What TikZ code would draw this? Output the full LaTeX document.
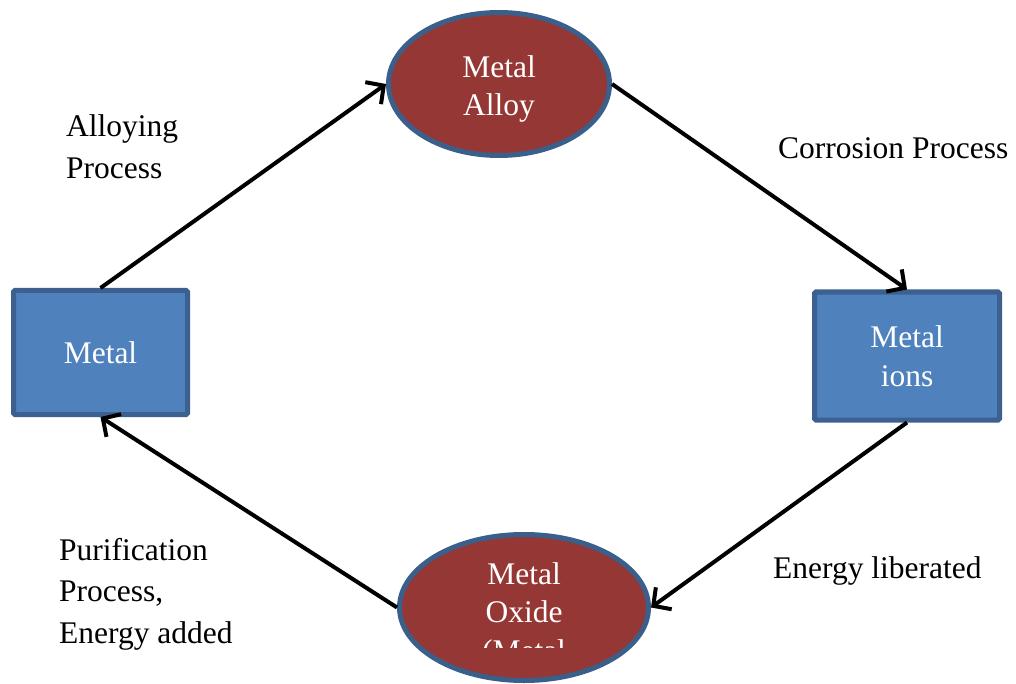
\documentclass[tikz,border=0pt]{standalone}
\usepackage{fontspec}
\setmainfont{Liberation Serif}
\usetikzlibrary{shapes.geometric,arrows.meta}
\definecolor{boxblue}{HTML}{4F81BD}
\definecolor{boxedge}{HTML}{3C6090}
\definecolor{ovalred}{HTML}{953735}
\definecolor{ovaledge}{HTML}{3A5F8B}
\tikzset{
  bigtext/.style={font=\fontsize{31.5}{38.5}\selectfont},
  labeltext/.style={font=\fontsize{31.5}{41.5}\selectfont, align=left, inner sep=0pt},
  bluebox/.style={draw=boxedge, fill=boxblue, line width=5pt, rounded corners=1.5pt,
    text=white, bigtext, align=center, inner sep=0pt},
  redoval/.style={ellipse, draw=ovaledge, fill=ovalred, line width=5pt, inner sep=0pt},
  ovaltext/.style={text=white, bigtext, align=center, inner sep=0pt},
  flow/.style={line width=4pt, -{Straight Barb[length=13pt,width=27pt,line width=4pt]}},
}
\begin{document}
\begin{tikzpicture}[x=1pt,y=-1pt]
\useasboundingbox (0,0) rectangle (1016,684);
\node[bluebox, minimum width=174pt, minimum height=124pt] (metal) at (100.5,352.5) {Metal};
\node[bluebox, minimum width=185pt, minimum height=128pt] (ions) at (907,356) {Metal\\ions};
\node[redoval, minimum width=221pt, minimum height=143pt] (alloy) at (499,84) {};
\node[ovaltext] (alloytext) at (499,89) {Metal\\Alloy};
\node[redoval, minimum width=249pt, minimum height=146pt] (oxide) at (524,607.5) {};
\begin{scope}
  \clip (0,0) rectangle (1016,647);
  \node[ovaltext] (oxidetext) at (524,615) {Metal\\Oxide\\(Metal};
\end{scope}
\draw[flow] (metal.north) -- (alloy.west);
\draw[flow] (alloy.east) -- (ions.north);
\draw[flow] (ions.south) -- (oxide.east);
\draw[flow] (oxide.west) -- (metal.south);
\node[labeltext, anchor=base west] (l1) at (66,178.5) {Alloying\\Process};
\node[labeltext, anchor=base west] (l2) at (778,159) {Corrosion Process};
\node[labeltext, anchor=base west] (l3) at (773,578) {Energy liberated};
\node[labeltext, anchor=base west] (l4) at (59,643) {Purification\\Process,\\Energy added};
\end{tikzpicture}
\end{document}
